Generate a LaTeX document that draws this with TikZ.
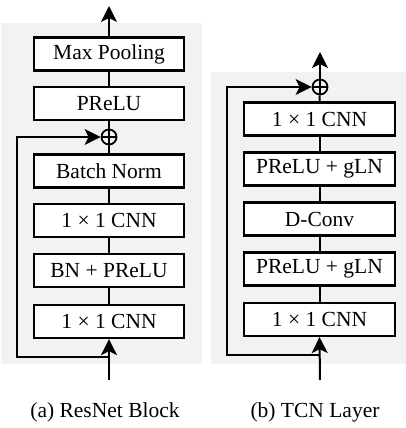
\documentclass[tikz,border=0pt]{standalone}
\usepackage{fontspec}
\setmainfont{Liberation Serif}
\newfontfamily\timesfont{Liberation Serif}
\usetikzlibrary{arrows.meta}
\begin{document}
\begin{tikzpicture}[x=1pt,y=-1pt,
  every node/.style={font=\timesfont\fontsize{21.5}{24}\selectfont},
  blk/.style={draw,line width=2.2pt,fill=white,minimum height=33pt,inner sep=0pt},
  lblk/.style={blk,minimum width=150pt},
  rblk/.style={blk,minimum width=151pt},
  conn/.style={line width=2pt},
  arr/.style={conn,-{Stealth[length=16pt,width=16pt,inset=4pt]}},
  oplus/.style={circle,draw,line width=1.8pt,minimum size=15pt,inner sep=0pt,
    path picture={\draw[line width=1.8pt] (path picture bounding box.west) -- (path picture bounding box.east)
      (path picture bounding box.north) -- (path picture bounding box.south);}},
  panel/.style={fill=black!5,draw=none}]
\fill[white] (0,0) rectangle (406,428);
\useasboundingbox (0,0) rectangle (406,428);
\fill[panel] (1,23) rectangle (202,364);
\fill[panel] (211,72) rectangle (406,364);
% left
\node[lblk] (mp) at (109,54) {Max Pooling};
\node[lblk] (pr) at (109,103.5) {PReLU};
\node[oplus] (la) at (109,137) {};
\node[lblk] (bn) at (109,171) {Batch Norm};
\node[lblk] (c2) at (109,220.5) {1 × 1 CNN};
\node[lblk] (bp) at (109,270.5) {BN + PReLU};
\node[lblk] (c1) at (109,321.5) {1 × 1 CNN};
\coordinate (lin) at (109,380);
\coordinate (lout) at (109,6);
\coordinate (lsplit) at (109,357);
\coordinate (lcorner) at (17,357);
\draw[arr] (mp.north) -- (lout);
\draw[conn] (pr) -- (mp);
\draw[conn] (la) -- (pr);
\draw[conn] (bn) -- (la);
\draw[conn] (c2) -- (bn);
\draw[conn] (bp) -- (c2);
\draw[conn] (c1) -- (bp);
\draw[arr] (lin) -- (c1.south);
\draw[arr] (lsplit) -- (lcorner) |- (la.west);
% right
\node[oplus] (ra) at (320,87) {};
\node[rblk] (d5) at (319.5,119) {1 × 1 CNN};
\node[rblk] (d4) at (319.5,169) {PReLU + gLN};
\node[rblk] (d3) at (319.5,219) {D-Conv};
\node[rblk] (d2) at (319.5,269) {PReLU + gLN};
\node[rblk] (d1) at (319.5,319.5) {1 × 1 CNN};
\coordinate (rin) at (320,380);
\coordinate (rout) at (320,52);
\coordinate (rsplit) at (320,355);
\coordinate (rcorner) at (227,355);
\draw[arr] (ra.north) -- (rout);
\draw[conn] (d5.north) -- (ra);
\draw[conn] (d4) -- (d5);
\draw[conn] (d3) -- (d4);
\draw[conn] (d2) -- (d3);
\draw[conn] (d1) -- (d2);
\draw[arr] (rin) -- (d1.south);
\draw[arr] (rsplit) -- (rcorner) |- (ra.west);
% captions
\node (capa) at (105,412) {(a) ResNet Block};
\node (capb) at (315,412) {(b) TCN Layer};
\end{tikzpicture}
\end{document}
